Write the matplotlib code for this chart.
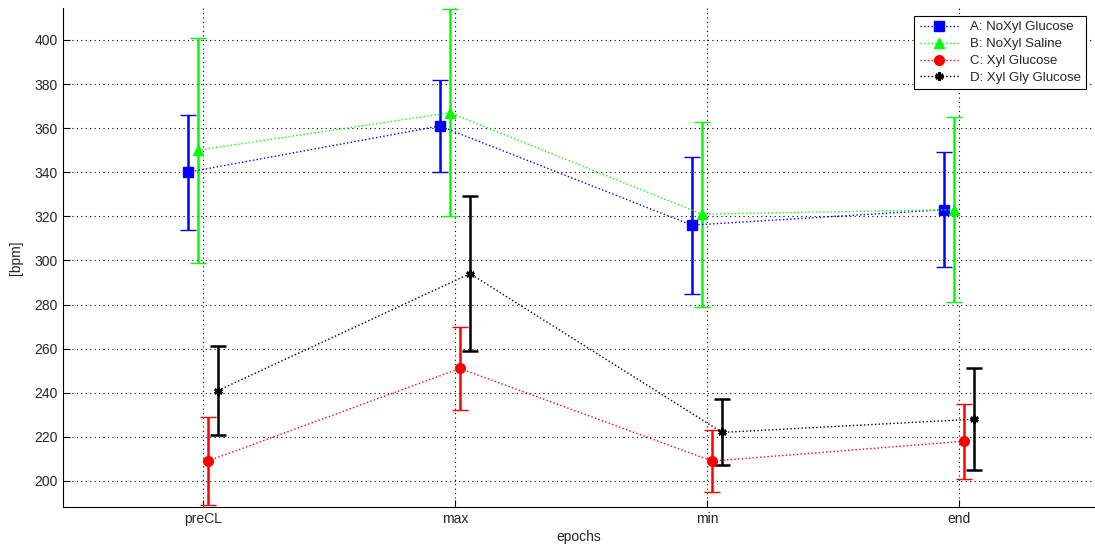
import numpy as np
import matplotlib.pyplot as plt

plt.rcParams['font.family'] = ['Liberation Sans', 'DejaVu Sans']

epochs = ['preCL', 'max', 'min', 'end']

labels = ['A: NoXyl Glucose', 'B: NoXyl Saline', 'C: Xyl Glucose', 'D: Xyl Gly Glucose']

mean_a = [340, 361, 316, 323]
err_a = [26, 21, 31, 26]

mean_b = [350, 367, 321, 323]
err_b = [51, 47, 42, 42]

mean_c = [209, 251, 209, 218]
err_c = [20, 19, 14, 17]

mean_d = [241, 294, 222, 228]
err_d = [20, 35, 15, 23]


def main():
    fig = plt.figure(figsize=(10.95, 5.51), dpi=100)
    ax = fig.add_axes([0.0575, 0.080, 0.9415, 0.9055])

    x = np.arange(1, len(epochs) + 1)
    # asterisk marker for the last group, like matlab's '*'
    series = [
        (mean_a, err_a, '#0000ff', 's', 7, 1.0, -0.06),
        (mean_b, err_b, '#00ff00', '^', 7, 1.0, -0.02),
        (mean_c, err_c, '#ff0000', 'o', 7, 1.0, 0.02),
        (mean_d, err_d, 'black', (6, 2, 0), 6, 1.8, 0.06),
    ]
    handles = []
    for (m, e, col, mk, ms, mew, dx), lab in zip(series, labels):
        cont = ax.errorbar(x + dx, m, yerr=e, color=col, ecolor=col, marker=mk,
                           markersize=ms, markeredgewidth=mew, linestyle=':',
                           linewidth=1.0, elinewidth=1.8, capsize=6,
                           capthick=1.8, label=lab)
        handles.append(cont[0])

    ax.set_xlim(0.445, 4.535)
    ax.set_ylim(188.2, 414.5)
    ax.set_xticks(x)
    ax.set_xticklabels(epochs)
    ax.set_yticks(np.arange(200, 401, 20))

    ax.grid(True, color='black', linestyle=(0, (1, 3)), linewidth=0.8)
    ax.set_axisbelow(True)
    for side in ['top', 'right']:
        ax.spines[side].set_visible(False)
    ax.tick_params(direction='in', length=5, labelsize=10, colors='black',
                   labelcolor='#262626')
    ax.set_xlabel('epochs', fontsize=10, color='#262626', labelpad=3)
    ax.set_ylabel('[bpm]', fontsize=10, color='#262626', labelpad=8)

    leg = ax.legend(handles, labels, loc='upper right', fontsize=9.5,
                    fancybox=False, framealpha=1, edgecolor='black',
                    handlelength=3, numpoints=1, borderaxespad=0.6,
                    labelspacing=0.35)
    leg.get_frame().set_linewidth(0.8)
    for t in leg.get_texts():
        t.set_color('#262626')

    fig.savefig('out.png', dpi=100)


if __name__ == '__main__':
    main()
